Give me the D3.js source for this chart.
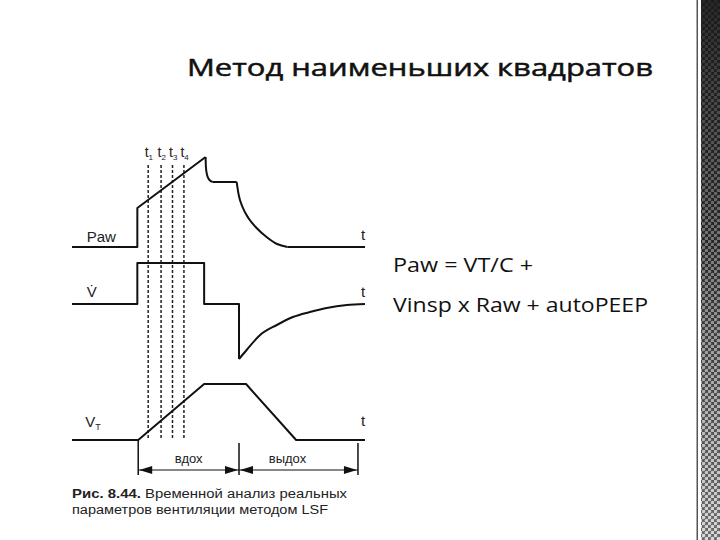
<!DOCTYPE html>
<html>
<head>
<meta charset="utf-8">
<script src="https://cdn.jsdelivr.net/npm/d3@7"></script>
<style>
  html, body { margin: 0; padding: 0; background: #fff; }
  svg { display: block; }
</style>
</head>
<body>
<div id="slide"></div>
<script>
// values: time in % of the breath cycle, amplitudes in arbitrary units
const titleText = "Метод наименьших квадратов";
const formulaLines = ["Paw = VT/C +", "Vinsp x Raw + autoPEEP"];
const captionBold = "Рис. 8.44.";
const captionLines = ["Временной анализ реальных", "параметров вентиляции методом LSF"];

const pawRamp = [[0, 0], [22.3, 0], [22.3, 3.9], [45.6, 9.0]];
const pawDrop = [[45.6, 9.0], [45.7, 8.0], [46.1, 7.2], [46.9, 6.7], [48.0, 6.5]];
const pawHold = [[48.0, 6.5], [56.2, 6.5]];
const pawDecay = [[56.2, 6.5], [56.9, 5.2], [58.2, 4.0], [60.2, 2.9], [63.0, 1.9], [66.4, 1.0], [70.0, 0.3], [73.5, 0]];
const pawRest = [[73.5, 0], [100, 0]];

const flowSquare = [[0, 0], [22.3, 0], [22.3, 4.1], [45.1, 4.1], [45.1, 0], [57.0, 0], [57.0, -5.5]];
const flowRecovery = [[57.0, -5.5], [59.6, -4.6], [64.2, -3.1], [69.9, -2.1], [75.4, -1.3], [81.2, -0.8], [86.9, -0.4], [93.8, -0.1], [100, 0]];

const volumeTrace = [[0, 0], [22.6, 0], [45.1, 5.6], [59.4, 5.6], [76.5, 0], [100, 0]];

const sampleTimes = [26.0, 30.4, 34.3, 38.2];
const sampleIndex = ["1", "2", "3", "4"];
const phaseEdges = [22.6, 57.0, 97.6];
const phaseNames = ["вдох", "выдох"];

const W = 720, H = 540;
const svg = d3.select('#slide').append('svg')
  .attr('width', W)
  .attr('height', H);

// decorative right edge
const defs = svg.append('defs');
const grad = defs.append('linearGradient').attr('id', 'edgeGrad')
  .attr('x1', 0).attr('y1', 0).attr('x2', 0).attr('y2', 1);
grad.append('stop').attr('offset', '0%').attr('stop-color', '#1b1b1b');
grad.append('stop').attr('offset', '45%').attr('stop-color', '#262626');
grad.append('stop').attr('offset', '100%').attr('stop-color', '#6a6a6a');
const dots = defs.append('pattern').attr('id', 'edgeDots')
  .attr('patternUnits', 'userSpaceOnUse').attr('width', 6).attr('height', 6);
dots.append('circle').attr('cx', 1.5).attr('cy', 1.5).attr('r', 1.8).attr('fill', '#fff');
dots.append('circle').attr('cx', 4.5).attr('cy', 4.5).attr('r', 1.8).attr('fill', '#fff');
const fadeGrad = defs.append('linearGradient').attr('id', 'fadeGrad')
  .attr('x1', 0).attr('y1', 0).attr('x2', 0).attr('y2', 1);
fadeGrad.append('stop').attr('offset', '0%').attr('stop-color', '#fff').attr('stop-opacity', 0.06);
fadeGrad.append('stop').attr('offset', '100%').attr('stop-color', '#fff').attr('stop-opacity', 0.75);
const mask = defs.append('mask').attr('id', 'fadeMask');
mask.append('rect').attr('x', 701).attr('y', 0).attr('width', 19).attr('height', H).attr('fill', 'url(#fadeGrad)');

svg.append('rect').attr('x', 696.5).attr('y', 0).attr('width', 1.5).attr('height', H).attr('fill', '#555');
svg.append('rect').attr('x', 701).attr('y', 0).attr('width', 19).attr('height', H).attr('fill', 'url(#edgeGrad)');
svg.append('rect').attr('x', 701).attr('y', 0).attr('width', 19).attr('height', H)
  .attr('fill', 'url(#edgeDots)').attr('mask', 'url(#fadeMask)');

// slide texts
svg.append('text')
  .attr('x', 187).attr('y', 76)
  .attr('textLength', 466).attr('lengthAdjust', 'spacingAndGlyphs')
  .style('font-family', '"Open Sans", sans-serif')
  .style('font-size', '24px')
  .style('fill', '#111')
  .style('stroke', '#111')
  .style('stroke-width', 0.5)
  .text(titleText);

svg.selectAll('.formula')
  .data(formulaLines)
  .enter()
  .append('text')
  .attr('class', 'formula')
  .attr('x', 393)
  .attr('y', (d, i) => 272 + i * 40)
  .attr('textLength', (d, i) => [140, 255][i])
  .attr('lengthAdjust', 'spacingAndGlyphs')
  .style('font-family', '"Open Sans", sans-serif')
  .style('font-size', '20px')
  .style('fill', '#111')
  .text(d => d);

// figure
const x = d3.scaleLinear().domain([0, 100]).range([72, 365]);
const yPaw = d3.scaleLinear().domain([0, 10]).range([247, 147]);
const yFlow = d3.scaleLinear().domain([-6, 5]).range([364, 254]);
const yVol = d3.scaleLinear().domain([0, 6]).range([440, 380]);

const fig = svg.append('g').attr('id', 'figure');

const trace = (pts, yScale, curve) => {
  const line = d3.line()
    .x(d => x(d[0]))
    .y(d => yScale(d[1]))
    .curve(curve);
  fig.append('path')
    .attr('d', line(pts))
    .attr('fill', 'none')
    .attr('stroke', '#111')
    .attr('stroke-width', 2)
    .attr('stroke-linejoin', 'round');
};

// dashed sample lines t1..t4
fig.selectAll('.sample')
  .data(sampleTimes)
  .enter()
  .append('line')
  .attr('class', 'sample')
  .attr('x1', d => x(d)).attr('x2', d => x(d))
  .attr('y1', yPaw(8.2)).attr('y2', yVol(0))
  .attr('stroke', '#222')
  .attr('stroke-width', 1.5)
  .attr('stroke-dasharray', '3,2');

trace(pawRamp, yPaw, d3.curveLinear);
trace(pawDrop, yPaw, d3.curveMonotoneX);
trace(pawHold, yPaw, d3.curveLinear);
trace(pawDecay, yPaw, d3.curveMonotoneX);
trace(pawRest, yPaw, d3.curveLinear);
trace(flowSquare, yFlow, d3.curveLinear);
trace(flowRecovery, yFlow, d3.curveMonotoneX);
trace(volumeTrace, yVol, d3.curveLinear);

const labelFont = '"Liberation Sans", Arial, sans-serif';

const tLab = fig.selectAll('.tlab')
  .data(sampleTimes)
  .enter()
  .append('text')
  .attr('class', 'tlab')
  .attr('x', d => x(d) - 3.5)
  .attr('y', 157)
  .style('font-family', labelFont)
  .style('font-size', '14px')
  .style('fill', '#222');
tLab.append('tspan').text('t');
tLab.append('tspan')
  .attr('dy', 3)
  .style('font-size', '8px')
  .text((d, i) => sampleIndex[i]);

// panel names
fig.append('text')
  .attr('x', x(5)).attr('y', yPaw(0) - 5)
  .style('font-family', labelFont).style('font-size', '15px').style('fill', '#222')
  .text('Paw');
fig.append('text')
  .attr('x', x(5)).attr('y', yFlow(0) - 7)
  .style('font-family', labelFont).style('font-size', '15px').style('fill', '#222')
  .text('V\u0307');
const vt = fig.append('text')
  .attr('x', x(4.5)).attr('y', yVol(0) - 13)
  .style('font-family', labelFont).style('font-size', '15px').style('fill', '#222');
vt.append('tspan').text('V');
vt.append('tspan').attr('dy', 3).style('font-size', '9px').text('T');

// time markers at the end of each trace
fig.selectAll('.tend')
  .data([yPaw(0) - 7, yFlow(0) - 7, yVol(0) - 14])
  .enter()
  .append('text')
  .attr('class', 'tend')
  .attr('x', x(100) - 4)
  .attr('y', d => d)
  .style('font-family', labelFont).style('font-size', '15px').style('fill', '#222')
  .text('t');

// inspiration / expiration brackets
const arrowY = 470;
fig.selectAll('.edge')
  .data(phaseEdges)
  .enter()
  .append('line')
  .attr('class', 'edge')
  .attr('x1', d => x(d)).attr('x2', d => x(d))
  .attr('y1', (d, i) => i === 0 ? yVol(0) : yVol(0) + 3)
  .attr('y2', 475)
  .attr('stroke', '#111')
  .attr('stroke-width', 1.5);

const head = (xt, dir) => {
  const L = 13, w = 4;
  fig.append('path')
    .attr('d', `M${xt},${arrowY} L${xt - dir * L},${arrowY - w} L${xt - dir * L},${arrowY + w} Z`)
    .attr('fill', '#111');
};
phaseNames.forEach((name, i) => {
  const a = x(phaseEdges[i]), b = x(phaseEdges[i + 1]);
  fig.append('line')
    .attr('x1', a).attr('x2', b)
    .attr('y1', arrowY).attr('y2', arrowY)
    .attr('stroke', '#111').attr('stroke-width', 1.2);
  head(a + 1, -1);
  head(b - 1, 1);
  fig.append('text')
    .attr('x', (a + b) / 2 + [0, -11][i])
    .attr('y', 463)
    .attr('text-anchor', 'middle')
    .style('font-family', labelFont).style('font-size', '13px').style('fill', '#222')
    .text(name);
});

// caption
fig.append('text')
  .attr('x', 72).attr('y', 498)
  .attr('textLength', 69).attr('lengthAdjust', 'spacingAndGlyphs')
  .style('font-family', labelFont).style('font-size', '12.5px').style('font-weight', 'bold').style('fill', '#222')
  .text(captionBold);
fig.append('text')
  .attr('x', 145).attr('y', 498)
  .attr('textLength', 202).attr('lengthAdjust', 'spacingAndGlyphs')
  .style('font-family', labelFont).style('font-size', '12.5px').style('fill', '#222')
  .text(captionLines[0]);
fig.append('text')
  .attr('x', 72).attr('y', 514)
  .attr('textLength', 256).attr('lengthAdjust', 'spacingAndGlyphs')
  .style('font-family', labelFont).style('font-size', '12.5px').style('fill', '#222')
  .text(captionLines[1]);
</script>
</body>
</html>
